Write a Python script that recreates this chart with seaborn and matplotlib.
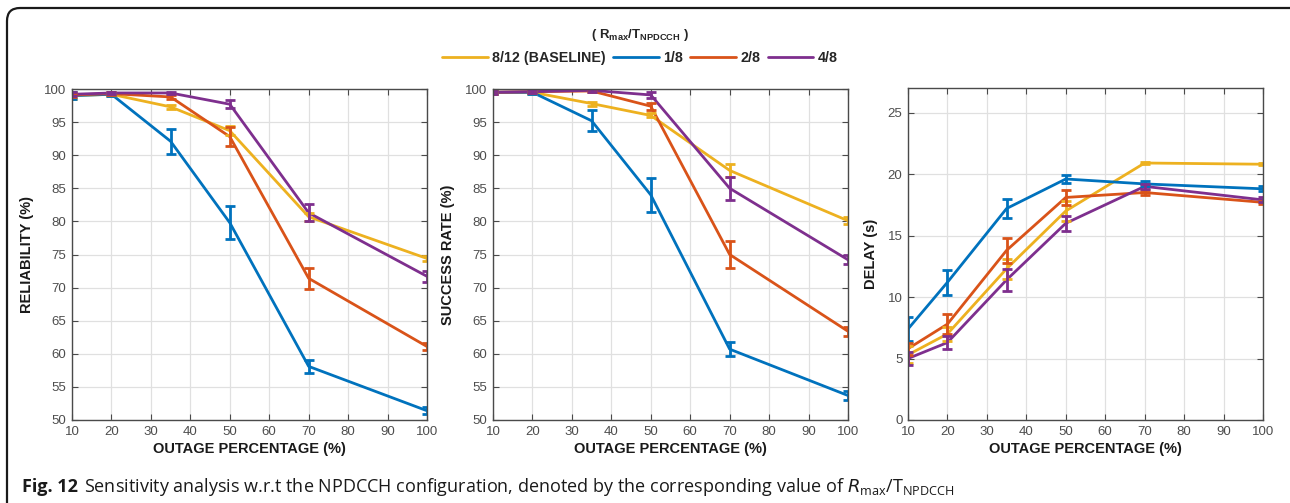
import numpy as np
import pandas as pd
import matplotlib
matplotlib.use("Agg")
import matplotlib.pyplot as plt
from matplotlib.patches import FancyBboxPatch
from matplotlib.transforms import IdentityTransform
from matplotlib.lines import Line2D
import seaborn as sns

outage = [10, 20, 35, 50, 70, 100]
configs = ["8/12 (BASELINE)", "1/8", "2/8", "4/8"]
colors = ["#EDB120", "#0072BD", "#D95319", "#7E2F8E"]

rel_base = [99.0, 99.2, 97.3, 93.7, 80.7, 74.4]
rel_18 = [99.0, 99.2, 92.1, 79.8, 58.1, 51.4]
rel_28 = [99.1, 99.3, 98.8, 92.8, 71.4, 61.1]
rel_48 = [99.2, 99.4, 99.4, 97.7, 81.3, 71.7]
rel_err_base = [0.5, 0.2, 0.3, 0.7, 0.6, 0.4]
rel_err_18 = [0.5, 0.2, 1.9, 2.5, 1.0, 0.5]
rel_err_28 = [0.3, 0.2, 0.3, 1.4, 1.6, 0.6]
rel_err_48 = [0.3, 0.2, 0.2, 0.6, 1.3, 0.8]

suc_base = [99.5, 99.5, 97.8, 96.0, 87.7, 80.1]
suc_18 = [99.5, 99.5, 95.2, 84.0, 60.7, 53.7]
suc_28 = [99.5, 99.6, 99.7, 97.4, 75.0, 63.4]
suc_48 = [99.5, 99.6, 99.8, 99.1, 85.0, 74.2]
suc_err_base = [0.2, 0.2, 0.3, 0.3, 1.0, 0.5]
suc_err_18 = [0.2, 0.2, 1.6, 2.6, 1.1, 0.7]
suc_err_28 = [0.2, 0.2, 0.2, 0.5, 2.0, 0.7]
suc_err_48 = [0.2, 0.2, 0.2, 0.5, 1.7, 0.7]

del_base = [5.3, 7.0, 12.3, 17.0, 20.9, 20.8]
del_18 = [7.4, 11.2, 17.2, 19.6, 19.2, 18.8]
del_28 = [5.8, 7.8, 13.8, 18.1, 18.5, 17.7]
del_48 = [5.0, 6.3, 11.4, 16.0, 19.0, 17.9]
del_err_base = [0.7, 0.6, 0.8, 0.8, 0.1, 0.1]
del_err_18 = [1.0, 1.0, 0.8, 0.3, 0.2, 0.2]
del_err_28 = [0.5, 0.8, 1.0, 0.6, 0.2, 0.1]
del_err_48 = [0.5, 0.5, 0.9, 0.6, 0.2, 0.2]

panels = [
    ("RELIABILITY (%)", [rel_base, rel_18, rel_28, rel_48],
     [rel_err_base, rel_err_18, rel_err_28, rel_err_48], (50, 100), list(range(50, 101, 5))),
    ("SUCCESS RATE (%)", [suc_base, suc_18, suc_28, suc_48],
     [suc_err_base, suc_err_18, suc_err_28, suc_err_48], (50, 100), list(range(50, 101, 5))),
    ("DELAY (s)", [del_base, del_18, del_28, del_48],
     [del_err_base, del_err_18, del_err_28, del_err_48], (0, 27), list(range(0, 26, 5))),
]

sns.set_theme(style="white")
plt.rcParams["font.family"] = ["Liberation Sans", "DejaVu Sans"]

W, H = 1290, 503
fig = plt.figure(figsize=(W / 100, H / 100), dpi=100)

# rounded border (pixel coordinates, origin bottom-left); right side runs off the image
border = FancyBboxPatch((7, -30), 1300, H - 8 + 30,
                        boxstyle="round,pad=0,rounding_size=13",
                        transform=IdentityTransform(), fill=False, ec="#1a1a1a", lw=1.6)
fig.patches.append(border)

lefts = [72, 493, 908]
tops = [89, 89, 88]
bottom_px = 420
width_px = 355
for (ylabel, series, errs, ylim, yticks), lp, tp in zip(panels, lefts, tops):
    ax = fig.add_axes([lp / W, 1 - bottom_px / H, width_px / W, (bottom_px - tp) / H])
    rows = []
    for name, vals in zip(configs, series):
        for x, v in zip(outage, vals):
            rows.append({"outage": x, "value": v, "config": name})
    df = pd.DataFrame(rows)
    sns.lineplot(data=df, x="outage", y="value", hue="config", hue_order=configs,
                 palette=colors, linewidth=2.0, ax=ax, legend=False, errorbar=None)
    for c, vals, e in zip(colors, series, errs):
        ax.errorbar(outage, vals, yerr=e, fmt="none", ecolor=c, elinewidth=2.0,
                    capsize=3.5, capthick=2.0)
    ax.set_xlim(10, 100)
    ax.set_ylim(*ylim)
    ax.set_xticks(list(range(10, 101, 10)))
    ax.set_yticks(yticks)
    ax.grid(True, color="#e0e0e0", linewidth=0.9)
    ax.set_axisbelow(True)
    for s in ax.spines.values():
        s.set_color("#4a4a4a")
        s.set_linewidth(1.0)
        s.set_visible(True)
    ax.tick_params(direction="in", length=4, width=0.8, color="#4a4a4a",
                   top=True, right=True, bottom=True, left=True,
                   labelsize=9.5, labelcolor="#4d4d4d", pad=4)
    ax.set_xlabel("OUTAGE PERCENTAGE (%)", fontsize=10.5, fontweight="bold",
                  color="#1a1a1a", labelpad=3)
    ax.set_ylabel(ylabel, fontsize=10.5, fontweight="bold", color="#1a1a1a", labelpad=7)

# legend
handles = [Line2D([0], [0], color=c, lw=2.0) for c in colors]
leg = fig.legend(handles, configs, loc="center", bbox_to_anchor=(640 / W, 1 - 46 / H),
                 ncol=4, frameon=False, handlelength=3.2, handletextpad=0.3,
                 columnspacing=0.5, prop={"weight": "bold", "size": 10.3},
                 title="( R$_{\\mathregular{max}}$/T$_{\\mathregular{NPDCCH}}$ )",
                 title_fontproperties={"weight": "bold", "size": 9.5})

# caption
cap_y = 1 - 487 / H
t1 = fig.text(22 / W, cap_y, "Fig. 12", fontsize=13, fontweight="bold",
              family="Open Sans", va="center", ha="left", color="#1a1a1a")
fig.canvas.draw()
bb = t1.get_window_extent()
x2 = (bb.x1 + 6) / W
fig.text(x2, cap_y,
         "Sensitivity analysis w.r.t the NPDCCH configuration, denoted by the corresponding value of "
         "$R_{\\mathregular{max}}$/T$_{\\mathregular{NPDCCH}}$",
         fontsize=13, family="Open Sans", va="center", ha="left", color="#1a1a1a")

fig.savefig("out.png", dpi=100)
